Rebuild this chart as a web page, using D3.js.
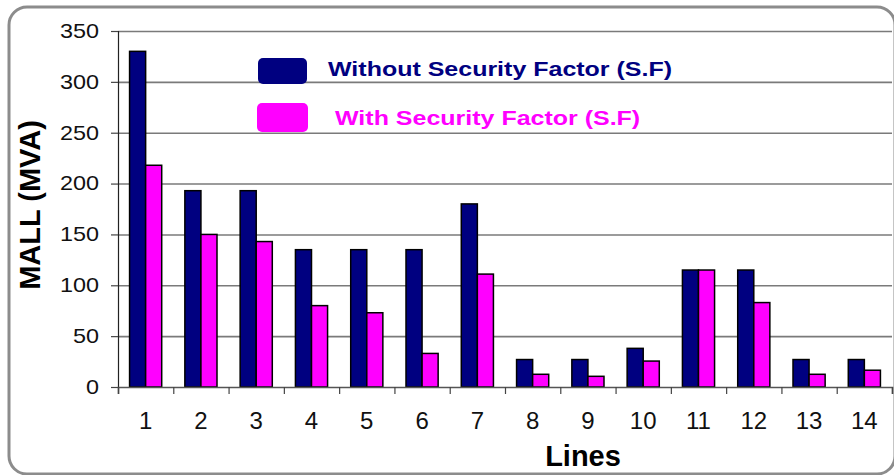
<!DOCTYPE html>
<html>
<head>
<meta charset="utf-8">
<script src="https://cdn.jsdelivr.net/npm/d3@7"></script>
<style>
  html, body { margin: 0; padding: 0; background: #fff; }
  svg { display: block; font-family: "Liberation Sans", Arial, sans-serif; }
</style>
</head>
<body>
<svg id="chart" width="894" height="475"></svg>
<script>
const categories = ["1","2","3","4","5","6","7","8","9","10","11","12","13","14"];
const seriesNames = ["Without Security Factor (S.F)", "With Security Factor (S.F)"];
const withoutSF = [330, 193, 193, 135, 135, 135, 180, 27, 27, 38, 115, 115, 27, 27];
const withSF    = [218, 150, 143, 80, 73, 33, 111, 12.5, 10.5, 25.5, 115, 83, 12.5, 16.5];
const yTicks = [0, 50, 100, 150, 200, 250, 300, 350];
const colors = ["#000080", "#ff00ff"];
const yTitle = "MALL (MVA)";
const xTitle = "Lines";

(function () {
const svg = d3.select("#chart");

// outer rounded frame
svg.append("rect")
  .attr("x", 9).attr("y", 7).attr("width", 886).attr("height", 467)
  .attr("rx", 18).attr("ry", 18)
  .attr("fill", "none").attr("stroke", "#8c8c8c").attr("stroke-width", 3);

const pL = 118, pR = 892, pT = 31, pB = 387;

const x = d3.scaleBand().domain(categories).range([pL, pR]).padding(0);
const x1 = d3.scaleBand().domain([0, 1]).range([0, x.bandwidth()]).paddingInner(0).paddingOuter(0.72);
const y = d3.scaleLinear().domain([0, 350]).range([pB, pT]);

// gridlines
const grid = svg.append("g").attr("transform", `translate(${pL},0)`)
  .call(d3.axisLeft(y).tickValues(yTicks.filter(d => d > 0)).tickSize(-(pR - pL)).tickFormat(""));
grid.select(".domain").remove();
grid.selectAll("line").attr("stroke", "#7a7a7a").attr("stroke-width", 1.6);

// bars
const data = categories.map((c, i) => ({ cat: c, vals: [withoutSF[i], withSF[i]] }));
const groups = svg.append("g").selectAll("g").data(data).join("g")
  .attr("transform", d => `translate(${x(d.cat)},0)`);
groups.selectAll("rect").data(d => d.vals.map((v, k) => ({ v, k }))).join("rect")
  .attr("x", d => x1(d.k))
  .attr("width", x1.bandwidth())
  .attr("y", d => y(d.v))
  .attr("height", d => y(0) - y(d.v))
  .attr("fill", d => colors[d.k])
  .attr("stroke", "#000").attr("stroke-width", 1.5);

// y axis
const yAxis = svg.append("g").attr("transform", `translate(${pL},0)`)
  .call(d3.axisLeft(y).tickValues(yTicks).tickSize(7).tickPadding(12));
yAxis.select(".domain").attr("stroke", "#222").attr("stroke-width", 1.2);
yAxis.selectAll(".tick line").attr("stroke", "#444").attr("stroke-width", 1.2);
yAxis.selectAll(".tick text")
  .attr("font-size", 20).attr("fill", "#111")
  .attr("x", -19 / 1.17)
  .attr("transform", "scale(1.17,1)");

// x axis: boundary ticks
const xb = d3.scaleLinear().domain([0, categories.length]).range([pL, pR]);
const xTickAxis = svg.append("g").attr("transform", `translate(0,${pB})`)
  .call(d3.axisBottom(xb).ticks(categories.length).tickSize(7).tickFormat(""));
xTickAxis.select(".domain").attr("stroke", "#555").attr("stroke-width", 1.6);
xTickAxis.selectAll(".tick line").attr("stroke", "#444").attr("stroke-width", 1.2);

// x axis labels
const xAxis = svg.append("g").attr("transform", `translate(0,${pB})`)
  .call(d3.axisBottom(x).tickSize(0).tickPadding(25));
xAxis.select(".domain").remove();
xAxis.selectAll(".tick text").attr("font-size", 24).attr("fill", "#111");

// axis titles
svg.append("text")
  .attr("transform", "translate(40,205) rotate(-90)")
  .attr("text-anchor", "middle")
  .attr("font-size", 29).attr("font-weight", "bold").attr("fill", "#000")
  .text(yTitle);
svg.append("text")
  .attr("x", 583).attr("y", 466)
  .attr("text-anchor", "middle")
  .attr("font-size", 29).attr("font-weight", "bold").attr("fill", "#000")
  .text(xTitle);

// legend
const legendPos = [
  { rx: 258, ry: 58, rw: 49, rh: 26, tx: 328, ty: 76 },
  { rx: 257, ry: 103, rw: 51, rh: 29, tx: 335, ty: 125 }
];
const legend = svg.append("g").selectAll("g").data(seriesNames).join("g");
legend.append("rect")
  .attr("x", (d, i) => legendPos[i].rx).attr("y", (d, i) => legendPos[i].ry)
  .attr("width", (d, i) => legendPos[i].rw).attr("height", (d, i) => legendPos[i].rh)
  .attr("rx", 5).attr("fill", (d, i) => colors[i]);
legend.append("text")
  .attr("transform", (d, i) => `translate(${legendPos[i].tx},${legendPos[i].ty}) scale(1.19,1)`)
  .attr("font-size", 21).attr("font-weight", "bold")
  .attr("fill", (d, i) => colors[i])
  .text(d => d);
})();
</script>
</body>
</html>
